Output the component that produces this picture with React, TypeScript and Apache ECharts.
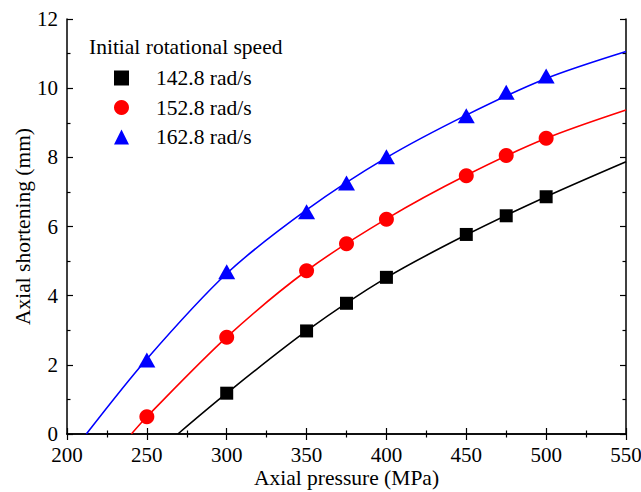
import React, { useEffect, useRef } from "react";
import * as echarts from "echarts";

const pressure = [300, 350, 375, 400, 450, 475, 500];
const speed1428 = [1.18, 2.98, 3.78, 4.53, 5.77, 6.31, 6.86];
const pressure2 = [250, 300, 350, 375, 400, 450, 475, 500];
const speed1528 = [0.5, 2.8, 4.72, 5.5, 6.21, 7.47, 8.05, 8.55];
const speed1628 = [2.14, 4.69, 6.43, 7.26, 8.02, 9.2, 9.88, 10.35];

// fitted curves
const fit1428X = [269.4, 300, 350, 400, 450, 500, 550];
const fit1428Y = [0, 1.18, 2.98, 4.52, 5.76, 6.86, 7.87];
const fit1528X = [240.3, 250, 300, 350, 400, 450, 500, 550];
const fit1528Y = [0, 0.5, 2.8, 4.72, 6.22, 7.48, 8.55, 9.37];
const fit1628X = [212.1, 250, 300, 350, 400, 450, 500, 550];
const fit1628Y = [0, 2.17, 4.64, 6.48, 7.99, 9.22, 10.28, 11.06];

const seriesNames = ["142.8 rad/s", "152.8 rad/s", "162.8 rad/s"];
const legendTitle = "Initial rotational speed";
const xTitle = "Axial pressure (MPa)";
const yTitle = "Axial shortening (mm)";

const FONT = "'Liberation Serif', 'Times New Roman', serif";

const zip = (xs: number[], ys: number[]) => xs.map((x, i) => [x, ys[i]]);

export default function App() {
  const ref = useRef<HTMLDivElement>(null);
  useEffect(() => {
    if (!ref.current) return;
    const chart = echarts.init(ref.current, null, { renderer: "svg" });
    const axisLine = { show: true, lineStyle: { color: "#000", width: 1.5 } };
    const tick = { show: true, inside: true, length: 6, lineStyle: { color: "#000", width: 1.2 } };
    const minor = { show: true, splitNumber: 2, length: 3.5, lineStyle: { color: "#000", width: 1.2 } };
    const label = { color: "#000", fontSize: 21, fontFamily: FONT };
    chart.setOption({
      animation: false,
      backgroundColor: "#fff",
      grid: { left: 67, right: 15, top: 19, bottom: 58, containLabel: false, outerBoundsMode: "none" },
      xAxis: [
        {
          type: "value",
          position: "bottom",
          min: 200,
          max: 550,
          interval: 50,
          axisLine,
          axisTick: tick,
          minorTick: minor,
          splitLine: { show: false },
          axisLabel: { ...label, margin: 10 },
          name: xTitle,
          nameLocation: "middle",
          nameGap: 33,
          nameMoveOverlap: false,
          nameTextStyle: { color: "#000", fontSize: 21.5, fontFamily: FONT },
        },
        {
          type: "value",
          position: "top",
          min: 200,
          max: 550,
          interval: 50,
          axisLine,
          axisTick: tick,
          minorTick: minor,
          splitLine: { show: false },
          axisLabel: { show: false },
        },
      ],
      yAxis: [
        {
          type: "value",
          position: "left",
          min: 0,
          max: 12,
          interval: 2,
          axisLine,
          axisTick: tick,
          minorTick: minor,
          splitLine: { show: false },
          axisLabel: { ...label, margin: 9 },
          name: yTitle,
          nameLocation: "middle",
          nameGap: 33,
          nameMoveOverlap: false,
          nameTextStyle: { color: "#000", fontSize: 21.5, fontFamily: FONT },
        },
        {
          type: "value",
          position: "right",
          min: 0,
          max: 12,
          interval: 2,
          axisLine,
          axisTick: tick,
          minorTick: minor,
          splitLine: { show: false },
          axisLabel: { show: false },
        },
      ],
      legend: {
        data: seriesNames,
        orient: "vertical",
        left: 109,
        top: 62,
        itemWidth: 15,
        itemHeight: 15,
        itemGap: 7.5,
        textStyle: {
          color: "#000",
          fontSize: 21.5,
          fontFamily: FONT,
          padding: [0, 0, 0, 22],
        },
      },
      graphic: [
        {
          type: "text",
          left: 89,
          top: 36,
          style: { text: legendTitle, fill: "#000", fontSize: 21.5, fontFamily: FONT },
        },
      ],
      series: [
        {
          name: "fit1",
          type: "line",
          data: zip(fit1428X, fit1428Y),
          smooth: 0.3,
          symbol: "none",
          lineStyle: { color: "#000", width: 1.6 },
          silent: true,
          z: 1,
        },
        {
          name: "fit2",
          type: "line",
          data: zip(fit1528X, fit1528Y),
          smooth: 0.3,
          symbol: "none",
          lineStyle: { color: "#ff0000", width: 1.6 },
          silent: true,
          z: 1,
        },
        {
          name: "fit3",
          type: "line",
          data: zip(fit1628X, fit1628Y),
          smooth: 0.3,
          symbol: "none",
          lineStyle: { color: "#0000ff", width: 1.6 },
          silent: true,
          z: 1,
        },
        {
          name: seriesNames[0],
          type: "scatter",
          symbol: "rect",
          symbolSize: 13,
          data: zip(pressure, speed1428),
          itemStyle: { color: "#000", opacity: 1 },
          z: 3,
        },
        {
          name: seriesNames[1],
          type: "scatter",
          symbol: "circle",
          symbolSize: 15,
          data: zip(pressure2, speed1528),
          itemStyle: { color: "#ff0000", opacity: 1 },
          z: 3,
        },
        {
          name: seriesNames[2],
          type: "scatter",
          symbol: "triangle",
          symbolSize: [17, 15],
          data: zip(pressure2, speed1628),
          itemStyle: { color: "#0000ff", opacity: 1 },
          z: 3,
        },
      ],
    });
    return () => chart.dispose();
  }, []);
  return <div ref={ref} style={{ width: 641, height: 492, position: "absolute", left: 0, top: 0 }} />;
}
